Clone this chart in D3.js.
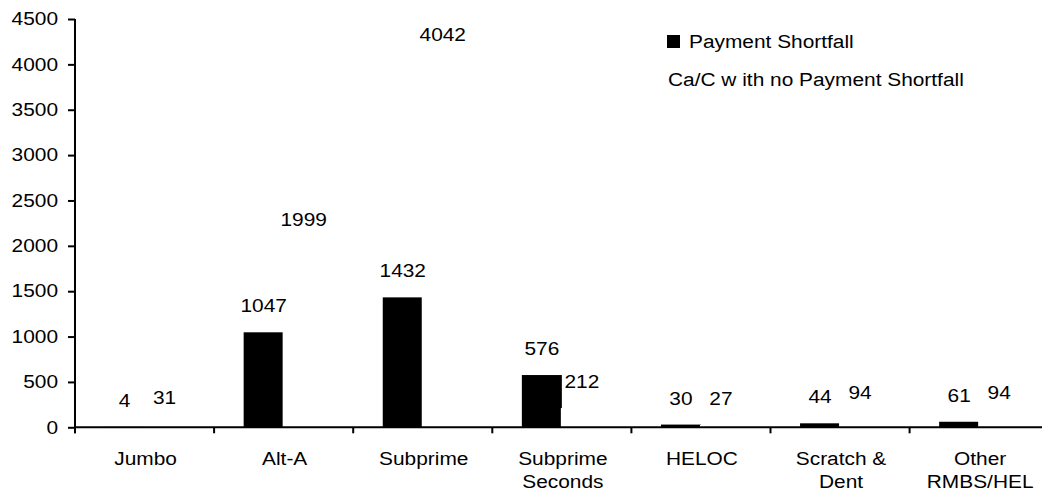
<!DOCTYPE html>
<html>
<head>
<meta charset="utf-8">
<script src="https://cdn.jsdelivr.net/npm/d3@7"></script>
<style>
  html, body { margin: 0; padding: 0; background: #fff; }
  svg { display: block; }
  text { font-family: "Liberation Sans", Arial, sans-serif; fill: #000; }
</style>
</head>
<body>
<svg id="chart" width="1042" height="498"></svg>
<script>
// ---- data ----
const categories = ["Jumbo", "Alt-A", "Subprime", "Subprime Seconds", "HELOC", "Scratch & Dent", "Other RMBS/HEL"];
const categoryLines = [["Jumbo"], ["Alt-A"], ["Subprime"], ["Subprime", "Seconds"], ["HELOC"], ["Scratch &", "Dent"], ["Other", "RMBS/HEL"]];
const seriesNames = ["Payment Shortfall", "Ca/C w ith no Payment Shortfall"];
const paymentShortfall = [4, 1047, 1432, 576, 30, 44, 61];
const noPaymentShortfall = [31, 1999, 4042, 212, 27, 94, 94];
const yTicks = [0, 500, 1000, 1500, 2000, 2500, 3000, 3500, 4000, 4500];

// ---- layout ----
const svg = d3.select("#chart");
const X0 = 75, BAND = 139.1, Y0 = 427.3, YTOP = 19;
const SX = 1.16; // horizontal text stretch
const FS = 18;

const x = d3.scaleBand().domain(categories).range([X0, X0 + BAND * categories.length]).padding(0);
const x1 = d3.scaleBand().domain(seriesNames).range([0, 80]).padding(0);
const y = d3.scaleLinear().domain([0, 4500]).range([Y0, YTOP]);

const colors = { [seriesNames[0]]: "#000", [seriesNames[1]]: "#fff" };
const values = { [seriesNames[0]]: paymentShortfall, [seriesNames[1]]: noPaymentShortfall };

function stretchedText(sel, tx, ty, str, anchor) {
  return sel.append("text")
    .attr("transform", `translate(${tx},${ty}) scale(${SX},1)`)
    .attr("text-anchor", anchor || "middle")
    .style("font-size", FS + "px")
    .text(str);
}

// ---- bars ----
const bars = svg.append("g");
seriesNames.forEach((s, si) => {
  categories.forEach((c, i) => {
    const v = values[s][i];
    const bx = x(c) + x.bandwidth() / 2 - 40 + x1(s) - (si === 1 ? 1 : 0);
    bars.append("rect")
      .attr("x", bx)
      .attr("y", y(v))
      .attr("width", x1.bandwidth())
      .attr("height", Y0 - y(v))
      .attr("fill", colors[s]);
  });
});

// ---- value labels ----
const labels = svg.append("g");
seriesNames.forEach((s, si) => {
  categories.forEach((c, i) => {
    const v = values[s][i];
    const cx = x(c) + x.bandwidth() / 2 - 40 + x1(s) + x1.bandwidth() / 2;
    stretchedText(labels, cx, y(v) - 20, String(v));
  });
});

// ---- y axis ----
const yAxis = svg.append("g")
  .attr("transform", `translate(${X0},0)`)
  .call(d3.axisLeft(y).tickValues(yTicks).tickSize(7).tickSizeOuter(0).tickFormat(d3.format("d")));
yAxis.select(".domain").attr("stroke", "#000").attr("stroke-width", 2)
  .attr("d", `M0,${YTOP}V${Y0 + 6}`);
yAxis.selectAll(".tick line").attr("stroke", "#000").attr("stroke-width", 2);
yAxis.selectAll(".tick text")
  .attr("x", -17 / SX)
  .attr("transform", `scale(${SX},1)`)
  .style("font-size", FS + "px")
  .style("font-family", '"Liberation Sans", Arial, sans-serif')
  .attr("fill", "#000");

// ---- x axis ----
const xAxis = svg.append("g");
xAxis.append("line")
  .attr("x1", X0).attr("x2", 1042)
  .attr("y1", Y0).attr("y2", Y0)
  .attr("stroke", "#000").attr("stroke-width", 2);
categories.forEach((c) => {
  xAxis.append("line")
    .attr("x1", x(c)).attr("x2", x(c))
    .attr("y1", Y0).attr("y2", Y0 + 6)
    .attr("stroke", "#000").attr("stroke-width", 2);
});
categories.forEach((c, i) => {
  const cx = x(c) + x.bandwidth() / 2 + 1;
  categoryLines[i].forEach((ln, li) => {
    stretchedText(xAxis, cx, 465 + li * 23, ln);
  });
});

// ---- legend ----
const legend = svg.append("g");
legend.append("rect").attr("x", 667).attr("y", 35).attr("width", 13).attr("height", 13).attr("fill", colors[seriesNames[0]]);
stretchedText(legend, 689, 48, seriesNames[0], "start");
legend.append("rect").attr("x", 667).attr("y", 73).attr("width", 13).attr("height", 13).attr("fill", colors[seriesNames[1]]);
stretchedText(legend, 668, 86, seriesNames[1], "start");
</script>
</body>
</html>
